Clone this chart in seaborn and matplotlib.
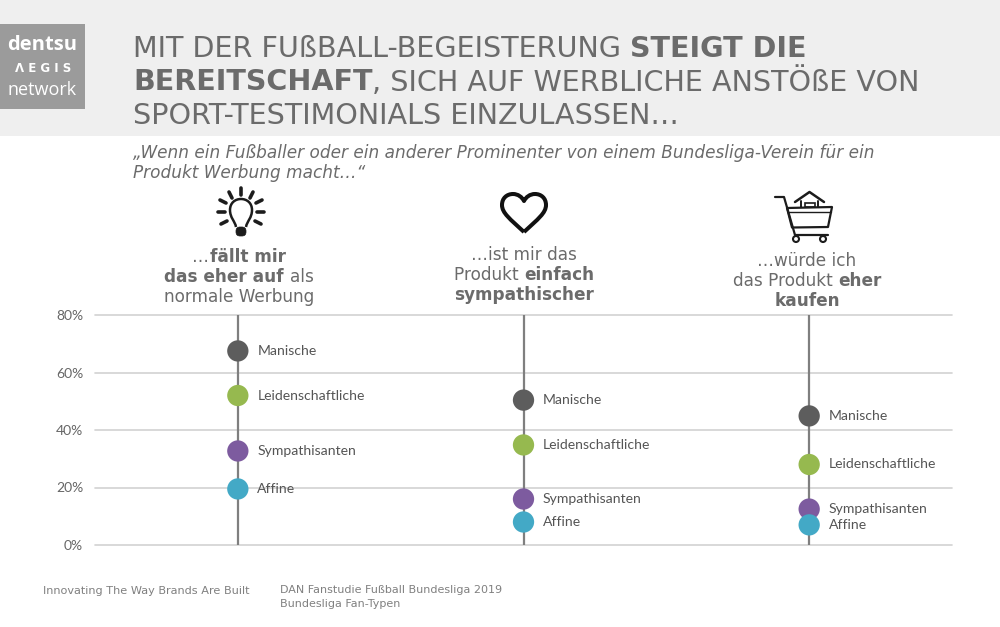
import matplotlib.pyplot as plt
import matplotlib.patches as mpatches
from matplotlib.path import Path
import pandas as pd
import seaborn as sns

# -------------------------- data --------------------------
statements = ['auffallen', 'sympathisch', 'kaufen']
fan_types = ['Manische', 'Leidenschaftliche', 'Sympathisanten', 'Affine']
manische = [67.5, 50.4, 44.9]
leidenschaftliche = [52, 34.8, 28]
sympathisanten = [32.7, 16, 12.5]
affine = [19.5, 8, 7]
y_ticks = [0, 20, 40, 60, 80]
y_tick_labels = ['0%', '20%', '40%', '60%', '80%']
type_colors = ['#5d5d5d', '#96b94f', '#7d5b9f', '#43a9c6']

df = pd.DataFrame({
    'statement': statements * 4,
    'type': [t for t in fan_types for _ in statements],
    'value': manische + leidenschaftliche + sympathisanten + affine,
})

GREY = '#6b6b6b'
sns.set_style('white')
plt.rcParams['font.family'] = ['DejaVu Sans']

W, H = 1000, 627
fig = plt.figure(figsize=(W / 100, H / 100), dpi=100, facecolor='white')

# overlay in pixel coordinates for header, icons and texts
bg = fig.add_axes([0, 0, 1, 1], zorder=0)
bg.set_xlim(0, W)
bg.set_ylim(H, 0)
bg.axis('off')


def runs(parts, x, y, size, center=False, color=GREY, style='normal'):
    """Draw (text, bold) parts one after the other on one baseline."""
    renderer = fig.canvas.get_renderer()
    items = [bg.text(x, y, t, fontsize=size, color=color, style=style,
                     fontweight='bold' if b else 'normal', va='baseline', ha='left')
             for t, b in parts]
    # trailing spaces are not measured reliably, so measure against a marker
    widths = []
    for it in items:
        txt = it.get_text()
        it.set_text(txt + '|')
        w1 = it.get_window_extent(renderer).width
        it.set_text('|')
        w2 = it.get_window_extent(renderer).width
        it.set_text(txt)
        widths.append(w1 - w2)
    cur = x - sum(widths) / 2 if center else x
    for it, w in zip(items, widths):
        it.set_x(cur)
        cur += w


# header
bg.add_patch(mpatches.Rectangle((0, 0), W, 136, color='#efefef', lw=0))
bg.add_patch(mpatches.Rectangle((0, 24), 85, 85, color='#9b9b9b', lw=0))
bg.text(42, 50, 'dentsu', color='white', fontsize=14.5, fontweight='bold', ha='center', va='baseline',
        family='Open Sans')
bg.text(43, 72, 'Λ E G I S', color='white', fontsize=8.5, fontweight='bold', ha='center', va='baseline',
        family='DejaVu Sans')
bg.text(42, 95, 'network', color='white', fontsize=13, ha='center', va='baseline', family='Open Sans')

title_size = 20.6
runs([('MIT DER FUßBALL-BEGEISTERUNG ', False), ('STEIGT DIE', True)], 133, 57, title_size)
runs([('BEREITSCHAFT', True), (', SICH AUF WERBLICHE ANSTÖßE VON', False)], 133, 90.5, title_size)
runs([('SPORT-TESTIMONIALS EINZULASSEN…', False)], 133, 124, title_size)

runs([('„Wenn ein Fußballer oder ein anderer Prominenter von einem Bundesliga-Verein für ein', False)],
     133, 158, 12.2, style='italic')
runs([('Produkt Werbung macht…“', False)], 133, 178, 12.2, style='italic')

head_size = 12.2
runs([('…', False), ('fällt mir', True)], 239, 262.5, head_size, center=True)
runs([('das eher auf ', True), ('als', False)], 239, 282.5, head_size, center=True)
runs([('normale Werbung', False)], 239, 302.5, head_size, center=True)

runs([('…ist mir das', False)], 524, 260.5, head_size, center=True)
runs([('Produkt ', False), ('einfach', True)], 524, 280.5, head_size, center=True)
runs([('sympathischer', True)], 524, 300.5, head_size, center=True)

runs([('…würde ich', False)], 807, 266.5, head_size, center=True)
runs([('das Produkt ', False), ('eher', True)], 807, 286.5, head_size, center=True)
runs([('kaufen', True)], 807, 306.5, head_size, center=True)

# footer
runs([('Innovating The Way Brands Are Built', False)], 43, 594, 8.15, color='#808080')
runs([('DAN Fanstudie Fußball Bundesliga 2019', False)], 280, 593, 8.05, color='#808080')
runs([('Bundesliga Fan-Typen', False)], 280, 607, 8.05, color='#808080')

# -------------------------- icons --------------------------
ICON = '#1c1c1c'
C4 = [Path.CURVE4] * 3
# light bulb
for (x0, y0, x1, y1) in [(241, 188, 241, 195), (229, 192, 232, 198), (253, 192, 250, 198),
                         (220, 200, 226, 203), (262, 200, 256, 203), (218, 212, 225, 212),
                         (264, 212, 257, 212), (221, 224, 227, 221), (261, 224, 255, 221)]:
    bg.plot([x0, x1], [y0, y1], color=ICON, lw=2.6, solid_capstyle='round')
bulb = Path([(236, 227), (235, 221), (230, 218), (230, 210), (230, 203), (235, 199), (241, 199),
             (247, 199), (252, 203), (252, 210), (252, 218), (247, 221), (246, 227)],
            [Path.MOVETO] + C4 * 4)
bg.add_patch(mpatches.PathPatch(bulb, fc='none', ec=ICON, lw=1.8))
bg.add_patch(mpatches.FancyBboxPatch((236, 227), 10, 9, boxstyle='round,pad=0,rounding_size=4', fc=ICON, ec=ICON, lw=0.5))

# heart
heart = Path([(524, 232), (510, 219), (502, 213), (502, 205), (502, 198), (507, 194), (513, 194),
              (518, 194), (522, 197), (524, 201), (526, 197), (530, 194), (535, 194),
              (541, 194), (546, 198), (546, 205), (546, 213), (538, 219), (524, 232)],
             [Path.MOVETO] + C4 * 6)
bg.add_patch(mpatches.PathPatch(heart, fc='none', ec='#111111', lw=2.9, joinstyle='round'))

# shopping cart
bg.plot([775, 784, 795, 828], [197, 197, 235, 235], color=ICON, lw=1.6)
bg.plot([787, 832, 828, 792, 787], [208, 207, 227, 227.5, 208], color=ICON, lw=1.6)
bg.plot([789, 831], [212, 212], color=ICON, lw=1)
for cx in (796, 823):
    bg.add_patch(mpatches.Circle((cx, 239), 3, fc='white', ec=ICON, lw=1.5))
bg.plot([795, 809.5, 824], [202, 192, 202], color=ICON, lw=1.8)
bg.plot([801, 801], [201, 207], color=ICON, lw=1.4)
bg.plot([818, 818], [201, 207], color=ICON, lw=1.4)
bg.add_patch(mpatches.Rectangle((805, 203), 10, 4, fc='none', ec=ICON, lw=1.2))

# -------------------------- chart --------------------------
ax = fig.add_axes([95 / W, 1 - 545 / H, (952 - 95) / W, (545 - 315) / H], zorder=2)
ax.patch.set_alpha(0)

ax.vlines(statements, 0, 80, color='#7f7f7f', lw=1.6, zorder=2)
sns.scatterplot(data=df, x='statement', y='value', hue='type', hue_order=fan_types,
                palette=type_colors, s=235, linewidth=0, legend=False, ax=ax, zorder=3, clip_on=False)

for _, row in df.iterrows():
    ax.annotate(row['type'], (row['statement'], row['value']), xytext=(14, 0),
                textcoords='offset points', va='center', ha='left',
                fontsize=10.1, color='#555555', family='Lato', zorder=4)

ax.set_xlim(-0.5, 2.5)
ax.set_ylim(0, 80)
ax.set_yticks(y_ticks)
ax.set_yticklabels(y_tick_labels, fontsize=10, color='#666666', family='Lato')
ax.set_xticks([])
ax.set_xlabel('')
ax.set_ylabel('')
ax.grid(axis='y', color='#d2d2d2', lw=1.2, clip_on=False)
ax.set_axisbelow(True)
ax.tick_params(axis='y', length=0, pad=8.6)
sns.despine(ax=ax, left=True, bottom=True, top=True, right=True)

fig.savefig('out.png', dpi=100)
